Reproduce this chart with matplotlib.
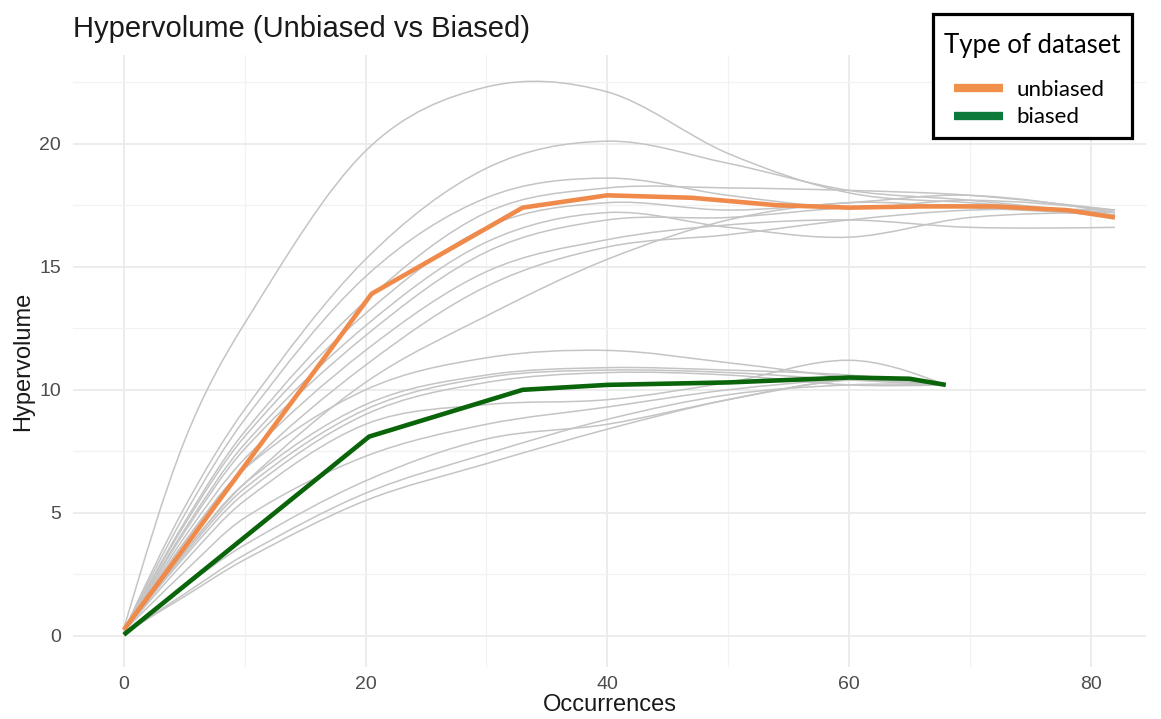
import numpy as np
import matplotlib.pyplot as plt
from matplotlib.path import Path
from matplotlib.patches import PathPatch
from matplotlib.lines import Line2D

# individual unbiased runs (grey), read at these occurrence values
x_unbiased = [0, 5, 10, 20, 30, 40, 50, 60, 70, 82]
runs_unbiased = [
    [0.3, 7.9, 12.7, 19.7, 22.3, 22.1, 19.6, 18.0, 17.6, 17.2],
    [0.2, 5.2, 9.2, 15.3, 19.0, 20.1, 19.2, 18.1, 17.7, 17.1],
    [0.2, 4.9, 8.8, 14.6, 17.8, 18.6, 17.9, 17.4, 17.7, 17.3],
    [0.2, 4.6, 8.3, 13.6, 17.2, 18.2, 18.2, 18.1, 17.9, 17.3],
    [0.2, 4.5, 8.1, 13.1, 16.6, 17.6, 17.3, 17.6, 17.9, 17.2],
    [0.2, 4.3, 7.8, 12.6, 16.0, 17.2, 16.6, 16.2, 17.0, 17.2],
    [0.2, 4.2, 7.6, 12.2, 15.6, 16.9, 17.0, 17.4, 17.5, 17.0],
    [0.2, 4.0, 7.2, 11.6, 14.8, 16.1, 16.7, 16.9, 16.6, 16.6],
    [0.2, 3.8, 6.8, 11.0, 14.2, 15.8, 16.3, 16.9, 17.3, 17.3],
    [0.2, 3.4, 6.2, 10.3, 13.0, 15.3, 16.9, 17.6, 17.4, 17.1],
]

# individual biased runs (grey)
x_biased = [0, 5, 10, 20, 30, 40, 50, 60, 68]
runs_biased = [
    [0.2, 3.8, 6.8, 10.0, 11.3, 11.6, 11.1, 10.5, 10.2],
    [0.2, 3.4, 6.2, 9.4, 10.6, 10.9, 10.8, 10.6, 10.2],
    [0.2, 3.3, 6.0, 9.2, 10.5, 10.8, 10.7, 10.4, 10.2],
    [0.2, 3.2, 5.8, 9.0, 10.3, 10.7, 10.6, 10.2, 10.2],
    [0.2, 3.0, 5.5, 8.6, 9.4, 9.6, 10.3, 11.2, 10.2],
    [0.2, 2.6, 4.8, 7.3, 8.6, 9.3, 10.0, 10.4, 10.2],
    [0.1, 2.0, 3.7, 6.3, 8.0, 8.6, 9.6, 10.4, 10.2],
    [0.1, 1.7, 3.3, 5.8, 7.4, 8.8, 9.8, 10.2, 10.2],
    [0.1, 1.6, 3.1, 5.5, 7.0, 8.4, 9.6, 10.4, 10.2],
]

# averaged curves
mean_unbiased_x = [0, 20.5, 33, 40, 47, 54, 60, 66, 72, 78, 82]
mean_unbiased_y = [0.25, 13.9, 17.4, 17.9, 17.8, 17.5, 17.4, 17.45, 17.45, 17.3, 17.0]
mean_biased_x = [0, 20.3, 33, 40, 50, 60, 65, 68]
mean_biased_y = [0.05, 8.1, 10.0, 10.2, 10.3, 10.5, 10.45, 10.2]

labels = ["unbiased", "biased"]
line_colors = ["#F08A4B", "#0A640A"]
legend_colors = ["#F0904A", "#0B7A3B"]


def smooth_path(x, y):
    x = np.asarray(x, float)
    y = np.asarray(y, float)
    d = np.diff(y) / np.diff(x)
    m = np.empty_like(y)
    m[1:-1] = (y[2:] - y[:-2]) / (x[2:] - x[:-2])
    m[0] = (3 * d[0] - m[1]) / 2
    m[-1] = (3 * d[-1] - m[-2]) / 2
    verts = [(x[0], y[0])]
    codes = [Path.MOVETO]
    for i in range(len(x) - 1):
        h = x[i + 1] - x[i]
        verts += [(x[i] + h / 3, y[i] + m[i] * h / 3),
                  (x[i + 1] - h / 3, y[i + 1] - m[i + 1] * h / 3),
                  (x[i + 1], y[i + 1])]
        codes += [Path.CURVE4] * 3
    return Path(verts, codes)


plt.rcParams["font.family"] = ["Liberation Sans", "DejaVu Sans"]

fig = plt.figure(figsize=(11.61, 7.19), dpi=100)
ax = fig.add_axes([0.0629, 0.0723, 0.9245, 0.8512])

for run in runs_unbiased:
    ax.add_patch(PathPatch(smooth_path(x_unbiased, run), facecolor="none",
                           edgecolor="#C4C4C4", lw=1.1, zorder=2))
for run in runs_biased:
    ax.add_patch(PathPatch(smooth_path(x_biased, run), facecolor="none",
                           edgecolor="#C4C4C4", lw=1.1, zorder=2))

ax.plot(mean_unbiased_x, mean_unbiased_y, color=line_colors[0], lw=3.3,
        solid_capstyle="butt", zorder=3)
ax.plot(mean_biased_x, mean_biased_y, color=line_colors[1], lw=3.3,
        solid_capstyle="butt", zorder=3)

ax.set_xlim(-4.2, 84.6)
ax.set_ylim(-1.26, 23.6)
ax.set_xticks([0, 20, 40, 60, 80])
ax.set_xticks([10, 30, 50, 70], minor=True)
ax.set_yticks([0, 5, 10, 15, 20])
ax.set_yticks([2.5, 7.5, 12.5, 17.5, 22.5], minor=True)
ax.grid(which="major", color="#EBEBEB", lw=1.3, zorder=0)
ax.grid(which="minor", color="#F2F2F2", lw=0.9, zorder=0)
ax.set_axisbelow(True)
for s in ax.spines.values():
    s.set_visible(False)
ax.tick_params(which="both", length=0, labelsize=14, labelcolor="#4D4D4D")
ax.tick_params(axis="y", pad=8.5)
ax.tick_params(axis="x", pad=6.5)

ax.set_xlabel("Occurrences", fontsize=17, color="#1A1A1A", labelpad=1)
ax.set_ylabel("Hypervolume", fontsize=17, color="#1A1A1A", labelpad=4)
ax.set_title("Hypervolume (Unbiased vs Biased)", loc="left", fontsize=21,
             color="#1A1A1A", pad=13)

handles = [Line2D([0], [0], color=c, lw=6, solid_capstyle="butt") for c in legend_colors]
leg = fig.legend(handles, labels, title="Type of dataset", loc="upper right",
                 bbox_to_anchor=(0.9746, 0.9812), frameon=True, fancybox=False,
                 prop={"family": "Lato", "size": 16},
                 title_fontproperties={"family": "Lato", "size": 18.5},
                 handlelength=2.66, handletextpad=0.6, borderpad=0.5,
                 labelspacing=0.32, borderaxespad=0, alignment="left")
leg.get_frame().set_edgecolor("black")
leg.get_frame().set_linewidth(2.3)
leg.get_frame().set_alpha(1)
leg._legend_box.sep = 22
leg.get_title().set_y(-8)
for ln in leg.get_lines():
    xd = np.asarray(ln.get_xdata(), float)
    ln.set_xdata(np.linspace(xd[0] + 7.2, xd[-1], len(xd)))

fig.savefig("out.png", dpi=100)
